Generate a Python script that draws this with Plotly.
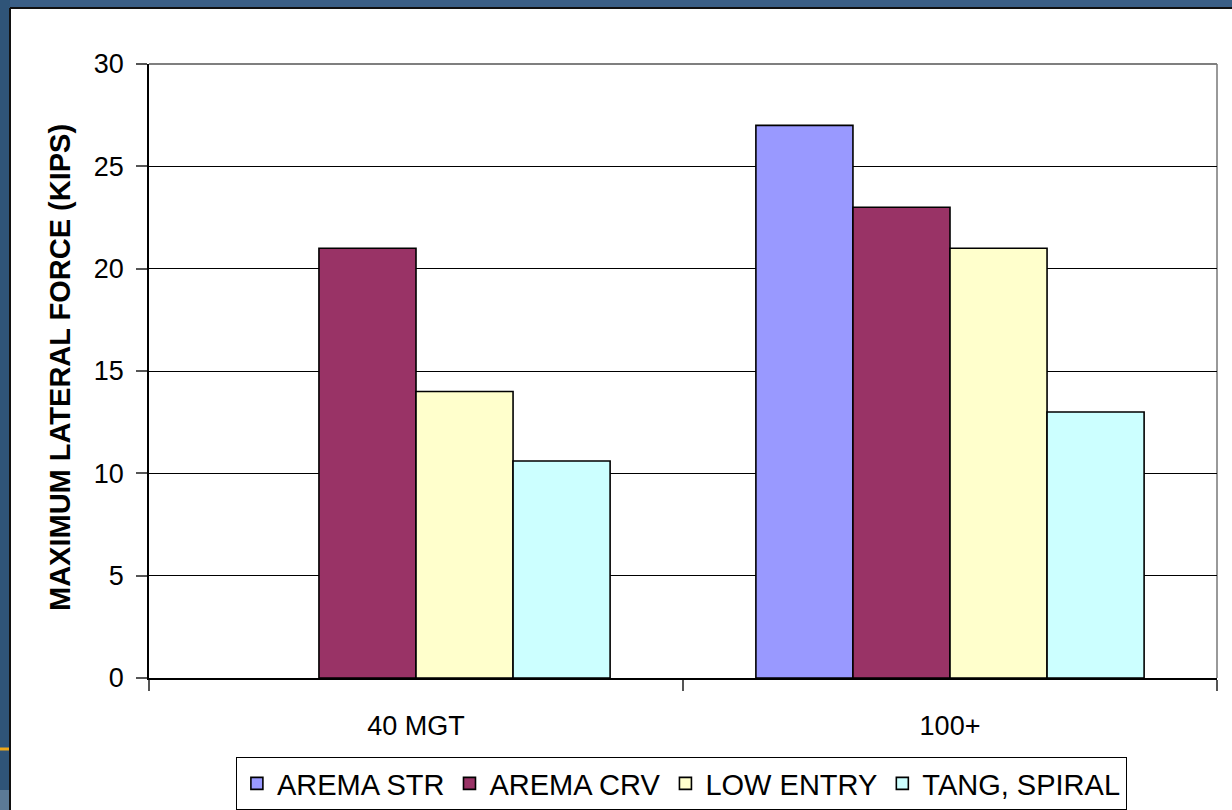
import plotly.graph_objects as go

# Chart data
categories = ["40 MGT", "100+"]
series_names = ["AREMA STR", "AREMA CRV", "LOW ENTRY", "TANG, SPIRAL"]
arema_str = [None, 27]
arema_crv = [21, 23]
low_entry = [14, 21]
tang_spiral = [10.6, 13]
y_ticks = [0, 5, 10, 15, 20, 25, 30]

series_values = [arema_str, arema_crv, low_entry, tang_spiral]
series_colors = ["#9999FF", "#993366", "#FFFFCC", "#CCFFFF"]

W, H = 1232, 810
ML, MR, MT, MB = 149, 15, 64, 132
PW, PH = W - ML - MR, H - MT - MB


def px_x(px):
    return (px - ML) / PW


def px_y(py):
    return (H - MB - py) / PH


FONT = "Liberation Sans, Arial, sans-serif"

fig = go.Figure()
for name, vals, col in zip(series_names, series_values, series_colors):
    fig.add_trace(go.Bar(
        name=name, x=categories, y=vals,
        marker=dict(color=col, line=dict(color="black", width=1.6)),
    ))

shapes = [
    # slide frame: blue strips on top and left
    dict(type="rect", xref="paper", yref="paper", x0=px_x(0), x1=px_x(W), y0=px_y(0), y1=px_y(8),
         fillcolor="#3b5f86", line=dict(width=0), layer="below"),
    dict(type="rect", xref="paper", yref="paper", x0=px_x(0), x1=px_x(10), y0=px_y(0), y1=px_y(H),
         fillcolor="#2f5478", line=dict(width=0), layer="below"),
    dict(type="rect", xref="paper", yref="paper", x0=px_x(0), x1=px_x(10), y0=px_y(790), y1=px_y(H),
         fillcolor="#5c7a96", line=dict(width=0), layer="below"),
    dict(type="line", xref="paper", yref="paper", x0=px_x(10), x1=px_x(W), y0=px_y(8), y1=px_y(8),
         line=dict(color="#111111", width=2), layer="below"),
    dict(type="line", xref="paper", yref="paper", x0=px_x(10), x1=px_x(10), y0=px_y(8), y1=px_y(H),
         line=dict(color="#111111", width=2), layer="below"),
    dict(type="line", xref="paper", yref="paper", x0=px_x(0), x1=px_x(9), y0=px_y(749), y1=px_y(749),
         line=dict(color="#f0a818", width=3), layer="below"),
    # plot-area frame (top and right edges)
    dict(type="line", xref="paper", yref="paper", x0=0, x1=1, y0=1, y1=1,
         line=dict(color="#555555", width=1.5), layer="below"),
    dict(type="line", xref="paper", yref="paper", x0=1, x1=1, y0=0, y1=1,
         line=dict(color="#777777", width=1.5), layer="below"),
]

fig.update_layout(
    width=W, height=H,
    margin=dict(l=ML, r=MR, t=MT, b=MB, autoexpand=False),
    paper_bgcolor="white", plot_bgcolor="white",
    barmode="group", bargap=0.273, bargroupgap=0,
    font=dict(family=FONT, color="black", size=27),
    showlegend=True,
    legend=dict(
        orientation="h", x=0.4985, xanchor="center", y=px_y(757), yanchor="top",
        bordercolor="black", borderwidth=1, bgcolor="white",
        font=dict(family=FONT, size=29, color="black"),
        traceorder="normal",
    ),
    shapes=shapes,
    annotations=[
        dict(text="<b>MAXIMUM LATERAL FORCE (KIPS)</b>", xref="paper", yref="paper",
             x=px_x(60), y=px_y(368), textangle=-90, showarrow=False,
             xanchor="center", yanchor="middle",
             font=dict(family=FONT, size=29, color="black")),
    ],
)

fig.update_xaxes(
    type="category", showgrid=False, showline=True, linecolor="black", linewidth=1.5,
    ticks="outside", tickson="boundaries", ticklen=11, tickcolor="#555555", tickwidth=1.5,
    tickfont=dict(family=FONT, size=27, color="black"), ticklabelstandoff=23,
)
fig.update_yaxes(
    range=[0, 30], tickvals=y_ticks, showgrid=True, gridcolor="black", gridwidth=1,
    showline=True, linecolor="black", linewidth=1.5, zeroline=False,
    ticks="outside", ticklen=11, tickcolor="#555555", tickwidth=1.5,
    tickfont=dict(family=FONT, size=27, color="black"), ticklabelstandoff=7,
)

fig.write_html("out.html")
